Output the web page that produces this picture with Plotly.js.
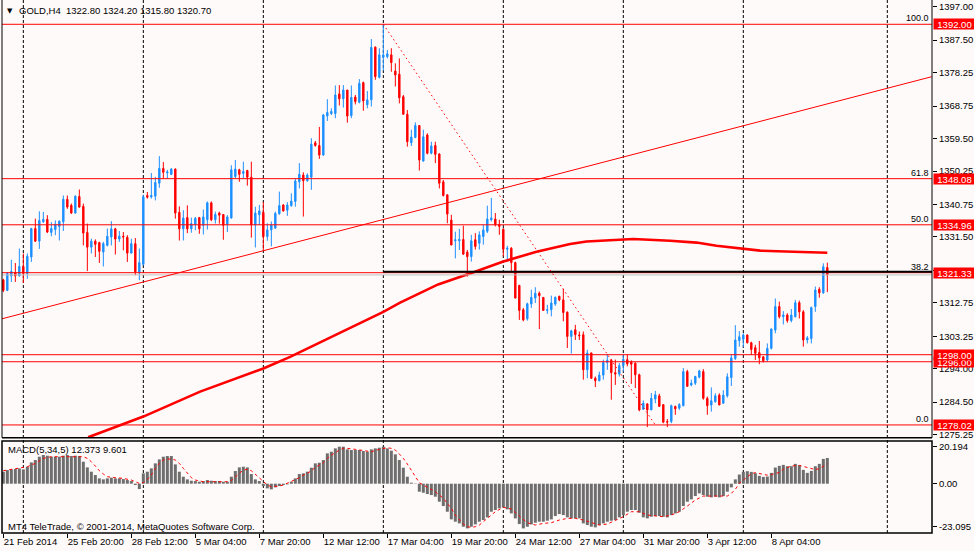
<!DOCTYPE html>
<html><head><meta charset="utf-8">
<script src="https://cdn.plot.ly/plotly-3.0.1.min.js"></script>
<style>html,body{margin:0;padding:0;background:#fffafa;}#chart{width:974px;height:551px;}</style>
</head><body><div id="chart"></div>
<script>
// ---------- data ----------
const symbolTitle = "GOLD,H4  1322.80 1324.20 1315.80 1320.70";
const macdTitle = "MACD(5,34,5) 12.373 9.601";
const copyright = "MT4 TeleTrade, \u00a9 2001-2014, MetaQuotes Software Corp.";

const opens = [1319.3,1316.3,1320.4,1321.3,1320.4,1323.1,1321.1,1325.8,1333.9,1330.3,
1335.8,1336.5,1332.8,1333.6,1334.5,1335.8,1342.2,1340.5,1338.3,1343.0,
1340.2,1332.8,1328.6,1330.3,1329.9,1327.2,1329.1,1331.5,1333.8,1330.9,
1331.7,1331.4,1326.9,1329.6,1321.3,1323.7,1343.3,1342.9,1343.1,1346.8,
1351.0,1349.7,1349.3,1350.8,1338.5,1333.8,1337.0,1333.8,1335.1,1337.0,
1334.8,1336.4,1341.2,1336.4,1338.3,1337.9,1335.1,1336.9,1348.7,1350.6,
1349.6,1350.4,1348.5,1334.9,1337.8,1338.5,1331.6,1333.5,1334.0,1338.1,
1340.6,1339.1,1340.4,1341.6,1347.2,1349.1,1347.5,1348.5,1358.3,1357.5,
1354.8,1365.9,1366.6,1366.6,1372.2,1370.8,1373.3,1366.0,1371.3,1369.8,
1375.4,1369.1,1370.5,1385.5,1376.9,1382.6,1382.8,1383.3,1378.7,1377.8,
1371.4,1366.4,1358.3,1359.8,1363.2,1353.1,1360.5,1355.3,1357.5,1355.1,
1347.2,1343.5,1336.3,1330.4,1330.4,1330.8,1327.2,1325.9,1330.7,1329.7,
1331.6,1333.1,1336.4,1336.6,1335.0,1333.7,1328.0,1328.3,1324.2,1317.7,
1310.8,1308.2,1312.4,1314.1,1315.5,1314.3,1310.6,1310.8,1312.4,1314.6,
1313.6,1310.1,1303.2,1305.1,1303.6,1303.7,1293.7,1298.5,1291.3,1290.6,
1292.2,1295.8,1296.4,1292.9,1292.5,1294.9,1296.6,1295.9,1295.6,1292.3,
1282.5,1284.0,1282.3,1285.4,1286.3,1283.8,1279.0,1279.0,1283.3,1282.8,
1283.5,1293.2,1289.4,1289.9,1291.6,1293.2,1285.6,1283.7,1284.6,1286.5,
1284.2,1286.3,1291.5,1296.9,1302.0,1302.4,1303.6,1301.4,1300.0,1298.6,
1297.4,1296.5,1299.8,1305.0,1311.7,1308.8,1309.3,1307.7,1308.8,1312.8,
1310.2,1302.2,1302.6,1311.7,1316.6,1315.6,1322.8];

const highs = [1319.6,1321.5,1325.0,1324.1,1328.2,1326.8,1326.8,1334.1,1336.7,1338.8,
1338.6,1337.7,1335.7,1336.2,1336.2,1343.3,1343.3,1341.0,1343.3,1345.0,
1341.0,1335.3,1331.0,1330.8,1330.1,1330.1,1333.9,1336.0,1334.1,1333.2,
1332.9,1332.0,1331.0,1331.2,1328.2,1343.5,1344.3,1349.7,1348.6,1354.5,
1352.8,1350.6,1351.1,1351.0,1340.2,1339.1,1340.5,1337.0,1337.2,1337.2,
1339.3,1341.6,1341.6,1338.7,1338.7,1337.9,1337.7,1351.9,1353.4,1350.9,
1352.9,1350.6,1352.9,1340.1,1340.6,1341.4,1335.4,1335.9,1338.7,1344.4,
1340.8,1341.4,1343.9,1348.2,1352.5,1349.9,1349.6,1359.6,1358.8,1362.8,
1366.5,1370.7,1368.1,1374.6,1374.7,1374.7,1373.3,1374.6,1371.9,1376.4,
1375.7,1373.0,1387.8,1385.7,1385.2,1392.0,1384.7,1385.2,1380.9,1382.3,
1371.9,1367.6,1362.0,1364.1,1363.2,1362.0,1361.0,1358.6,1358.6,1355.3,
1347.7,1343.5,1337.8,1333.0,1333.8,1334.7,1327.8,1332.1,1332.6,1333.1,
1335.0,1340.4,1342.6,1338.3,1336.4,1334.0,1329.0,1328.6,1324.5,1317.9,
1311.3,1312.8,1316.5,1317.2,1316.0,1314.4,1312.2,1314.8,1314.6,1314.8,
1316.8,1310.3,1305.1,1306.5,1304.6,1304.6,1299.4,1298.6,1291.8,1293.2,
1296.6,1298.2,1296.8,1296.6,1295.6,1298.1,1298.0,1296.4,1295.8,1292.6,
1285.0,1284.2,1287.1,1287.7,1286.9,1283.8,1279.7,1283.8,1283.5,1284.2,
1294.2,1293.7,1290.9,1292.0,1293.7,1293.9,1286.1,1288.7,1287.0,1287.0,
1287.9,1292.7,1298.1,1306.4,1304.7,1304.1,1303.8,1301.7,1300.8,1301.9,
1297.6,1301.2,1305.5,1314.0,1313.1,1310.4,1309.8,1311.0,1313.6,1313.4,
1310.7,1303.3,1311.7,1317.4,1317.2,1324.0,1324.2];

const lows = [1315.8,1316.1,1318.7,1318.7,1320.3,1318.4,1319.6,1324.4,1330.1,1328.1,
1335.5,1332.6,1331.7,1332.0,1330.5,1333.2,1339.5,1338.1,1338.1,1339.8,
1329.1,1321.8,1326.8,1325.8,1324.1,1323.1,1328.8,1329.1,1326.5,1330.1,
1327.7,1324.4,1326.8,1320.6,1319.2,1323.4,1342.4,1342.4,1341.9,1345.5,
1348.1,1348.1,1349.1,1336.7,1330.5,1330.5,1332.6,1332.7,1333.4,1332.4,
1332.2,1333.6,1336.0,1335.3,1335.3,1330.7,1332.9,1336.7,1348.2,1347.2,
1348.2,1346.1,1331.3,1328.5,1334.9,1327.8,1330.4,1328.8,1333.8,1337.8,
1338.7,1337.5,1340.1,1340.1,1345.3,1337.3,1347.2,1344.9,1357.2,1353.7,
1354.6,1364.5,1366.2,1365.3,1368.9,1368.3,1364.0,1365.3,1369.2,1369.5,
1367.4,1368.1,1368.6,1376.2,1376.6,1378.8,1382.3,1378.5,1374.3,1369.5,
1366.4,1357.2,1357.4,1359.6,1350.4,1352.9,1355.0,1355.0,1352.5,1345.3,
1343.0,1335.4,1329.2,1325.4,1327.8,1326.4,1320.2,1324.5,1327.9,1327.9,
1329.3,1332.6,1335.9,1334.5,1332.1,1326.0,1324.5,1321.4,1314.1,1307.9,
1307.5,1307.7,1311.3,1312.7,1305.3,1310.6,1309.6,1308.9,1311.9,1313.2,
1307.5,1299.9,1298.3,1302.2,1302.2,1290.9,1291.3,1291.1,1288.8,1290.4,
1290.9,1293.7,1285.2,1289.4,1291.8,1293.2,1294.7,1289.7,1288.5,1281.9,
1282.3,1277.4,1282.3,1284.2,1283.3,1278.5,1277.4,1278.5,1280.9,1282.3,
1283.3,1289.0,1289.0,1289.4,1291.3,1285.2,1280.9,1281.8,1284.4,1283.7,
1284.0,1285.8,1289.1,1296.5,1300.3,1300.1,1301.2,1297.9,1296.5,1295.3,
1295.8,1296.0,1299.5,1304.1,1308.3,1306.6,1307.1,1307.2,1308.6,1308.3,
1300.3,1301.2,1301.2,1310.2,1314.2,1315.3,1315.8];

const closes = [1316.3,1321.1,1321.7,1320.4,1323.1,1321.1,1326.0,1333.9,1330.3,1336.2,
1336.5,1332.9,1333.9,1335.1,1336.0,1342.2,1340.0,1338.3,1343.1,1340.0,
1332.6,1328.6,1330.3,1329.4,1327.4,1329.6,1331.7,1333.8,1330.9,1331.7,
1331.5,1326.9,1329.6,1321.5,1324.2,1342.9,1342.8,1343.3,1347.0,1351.0,
1349.9,1350.0,1350.8,1338.3,1333.8,1336.9,1333.8,1335.3,1336.8,1333.8,
1337.2,1341.2,1336.4,1337.9,1337.7,1334.8,1337.2,1350.6,1350.8,1349.3,
1350.1,1348.5,1334.9,1338.3,1338.9,1331.6,1333.5,1334.9,1338.2,1340.4,
1338.9,1340.6,1341.7,1347.4,1349.3,1347.5,1349.1,1357.9,1357.5,1354.8,
1366.2,1366.9,1367.2,1371.9,1370.8,1373.3,1365.9,1371.2,1370.0,1375.2,
1370.2,1370.5,1385.4,1377.1,1383.3,1383.3,1383.6,1381.1,1377.6,1371.1,
1366.4,1358.6,1359.9,1363.2,1353.4,1360.0,1355.3,1357.4,1355.0,1346.8,
1343.3,1338.0,1329.2,1330.7,1330.8,1326.6,1325.9,1330.4,1328.8,1332.1,
1333.5,1336.6,1336.9,1335.0,1334.5,1328.0,1328.3,1324.2,1314.1,1310.6,
1307.9,1312.5,1314.3,1315.5,1314.8,1310.6,1310.8,1312.7,1314.3,1313.6,
1310.0,1303.2,1304.8,1303.7,1303.4,1293.7,1298.5,1291.3,1290.6,1292.2,
1295.8,1296.4,1292.9,1292.5,1294.9,1296.7,1295.4,1295.3,1292.3,1282.3,
1284.2,1282.3,1285.6,1286.6,1283.3,1278.8,1278.8,1283.5,1282.6,1283.8,
1293.2,1289.0,1289.9,1291.8,1293.4,1285.6,1283.5,1284.9,1286.3,1283.7,
1286.5,1291.7,1297.1,1302.2,1303.1,1303.6,1301.4,1299.5,1298.4,1297.1,
1296.3,1299.8,1305.3,1311.7,1308.8,1309.3,1307.7,1309.3,1312.8,1310.2,
1302.2,1302.8,1311.4,1316.4,1315.6,1323.0,1320.7];

// MACD(5,34,5) main (histogram)
const macdMain = [5.77,6.57,6.89,7.05,7.37,6.89,8.18,10.26,11.38,12.98,
13.79,13.47,12.98,12.98,12.98,13.47,13.79,13.30,13.47,13.30,
10.58,7.85,5.77,4.17,2.56,2.08,2.56,2.89,2.56,2.56,
2.24,1.76,1.28,-0.64,-2.56,4.97,5.77,7.37,9.78,11.70,
12.98,13.30,13.30,9.30,5.77,3.37,2.08,1.44,1.28,0.96,
1.28,1.76,1.44,1.28,1.28,0.96,0.96,3.37,6.09,7.85,
8.18,7.85,4.65,2.08,1.28,-1.12,-2.24,-2.73,-1.76,-1.12,
-0.64,-0.32,0.96,2.56,4.65,4.97,5.77,7.69,9.78,10.10,
11.38,14.59,15.39,16.99,17.79,17.79,16.51,16.19,16.19,16.19,
15.71,15.39,16.51,16.99,17.31,17.79,16.99,15.87,14.11,11.38,
7.69,3.37,0.48,-0.16,-3.85,-4.33,-4.97,-5.45,-6.25,-8.66,
-10.74,-13.47,-17.15,-18.27,-19.08,-20.68,-21.48,-20.68,-19.56,-18.27,
-17.47,-16.19,-13.47,-12.66,-11.86,-11.38,-12.34,-14.27,-16.67,-19.40,
-21.48,-20.68,-19.56,-18.76,-18.27,-18.27,-17.79,-17.15,-15.55,-14.59,
-15.07,-16.19,-16.67,-16.67,-16.67,-19.08,-19.88,-20.68,-21.00,-19.88,
-19.08,-18.27,-17.79,-17.47,-16.19,-15.07,-13.47,-12.66,-12.66,-13.95,
-16.19,-16.67,-15.87,-15.55,-15.55,-15.87,-16.19,-15.07,-14.27,-13.47,
-10.74,-8.66,-7.53,-5.93,-4.65,-5.45,-6.25,-6.57,-6.25,-6.57,
-5.93,-3.85,-1.76,2.08,4.41,5.69,6.01,5.69,5.05,3.77,
3.29,3.45,5.21,7.77,8.57,9.05,8.41,8.41,9.54,8.89,
6.65,5.21,6.17,8.41,9.54,11.94,12.373];

// MACD signal line, read at these bars
const sigBars = [0,3,6,8,10,12,15,18,20,21,22,23,24,25,26,28,30,32,33,34,
35,36,37,38,39,40,41,42,43,44,45,46,47,48,49,50,53,56,57,58,
59,60,61,62,63,64,65,66,67,68,69,70,71,72,73,74,75,76,77,78,
79,80,81,82,83,84,85,86,88,90,92,94,96,97,98,99,100,101,102,103,
104,105,106,107,108,109,110,111,112,113,114,115,116,117,118,119,121,123,125,127,
129,131,133,135,137,139,141,143,145,147,149,151,153,155,157,159,161,163,165,167,
169,171,173,175,177,179,181,182,183,184,185,186,187,188,189,191,192,194,195,197,
199,200,201,203,204,205,206];
const sigVals = [6.25,7.05,8.18,9.78,12.18,12.98,12.98,13.30,12.98,12.18,10.58,8.50,6.25,4.65,3.37,2.89,2.56,1.76,0.96,0.16,
0.48,2.08,4.17,7.37,9.78,11.38,11.86,11.86,11.38,9.78,7.37,4.97,2.89,1.76,1.28,0.96,0.96,0.96,1.44,3.37,
4.97,6.57,6.89,6.25,4.49,2.56,0.96,-0.64,-1.44,-1.44,-1.12,-0.64,0.16,0.96,1.76,2.89,4.17,4.97,6.25,7.85,
8.98,10.10,12.18,13.79,14.91,16.19,16.99,16.99,16.51,15.87,15.39,16.51,17.31,16.99,16.19,14.27,12.18,9.46,6.25,3.37,
0.48,-0.64,-1.76,-2.73,-3.85,-5.45,-7.05,-9.46,-11.86,-15.07,-17.47,-19.40,-20.68,-21.00,-20.68,-19.88,-16.67,-13.47,-11.38,-12.18,
-15.55,-18.76,-19.88,-19.08,-18.76,-17.47,-16.67,-16.67,-17.47,-18.76,-19.88,-19.40,-17.79,-15.87,-13.47,-13.47,-15.07,-15.55,-15.87,-15.07,
-13.47,-10.74,-7.85,-5.93,-5.93,-6.25,-5.93,-4.65,-2.73,0.2,1.6,3.2,4.8,5.3,5.0,4.1,4.4,5.4,7.0,8.5,
8.8,8.3,7.6,6.8,7.2,8.2,9.601];

// moving average (thick red), read at these bars
const maBars = [21.2,35,49.2,65,71.7,95,99.2,108.7,117.9,125,133.3,141.7,145.8,151.7,157.5,166.7,173.3,178.3,184.2,189.2,197.5,203.3,206];
const maVals = [1274.5,1280.4,1287.5,1294.1,1297.4,1310.2,1312.8,1318.0,1321.6,1324.5,1327.3,1329.5,1330.2,1330.6,1330.9,1330.4,1329.9,1329.0,1328.2,1327.6,1327.3,1327.0,1327.0];

// drawn objects
const levelPrices = [1392.00, 1348.08, 1334.96, 1321.33, 1298.00, 1296.00, 1278.02];
const fibPrices = [1392.00, 1348.08, 1334.96, 1321.33, 1278.02];
const fibLabels = ["100.0", "61.8", "50.0", "38.2", "0.0"];
const fibDiagBars = [95, 163];
const fibDiagPrices = [1392.00, 1278.02];
const trendBars = [-0.83, 232.1];
const trendPrices = [1308.07, 1377.09];
const blackLineBars = [95, 240];
const blackLinePrice = 1321.6;
const bidPrice = 1320.70;
const gridBars = [5, 35, 65, 95, 125, 155, 185, 221];

// axes
const timeBars = [0,16,32,48,64,80,96,112,128,144,160,176,192];
const timeLabels = ["21 Feb 2014","25 Feb 20:00","28 Feb 12:00","5 Mar 04:00","7 Mar 20:00","12 Mar 12:00","17 Mar 04:00","19 Mar 20:00","24 Mar 12:00","27 Mar 04:00","31 Mar 20:00","3 Apr 12:00","8 Apr 04:00"];
const priceTicks = [1397.00,1387.50,1378.25,1368.75,1359.50,1350.25,1340.75,1331.50,1322.00,1312.75,1303.25,1294.00,1284.50,1275.25];
const macdTickPos = [17.79, 0, -20.67];
const macdTickText = ["20.194", "0.00", "-23.095"];

// ---------- chart ----------
const bars = opens.map((_, i) => i);
const FONT = 'Liberation Sans, Arial, sans-serif';
const RED = '#ff0000', BLUE = '#1e90ff';

const traces = [
  { type: 'candlestick', x: bars, open: opens, high: highs, low: lows, close: closes,
    xaxis: 'x', yaxis: 'y', whiskerwidth: 0, hoverinfo: 'skip',
    increasing: { line: { color: BLUE, width: 1 }, fillcolor: BLUE },
    decreasing: { line: { color: RED, width: 1 }, fillcolor: RED } },
  { type: 'scatter', mode: 'lines', x: maBars, y: maVals, xaxis: 'x', yaxis: 'y',
    line: { color: RED, width: 2.6 }, hoverinfo: 'skip' },
  { type: 'bar', x: bars, y: macdMain, xaxis: 'x', yaxis: 'y2',
    marker: { color: '#6e6e6e', line: { width: 0 } }, hoverinfo: 'skip' },
  { type: 'scatter', mode: 'lines', x: sigBars, y: sigVals, xaxis: 'x', yaxis: 'y2',
    line: { color: RED, width: 1, dash: '3px,3px' }, hoverinfo: 'skip' }
];

const MAIN_BOTTOM = 0.1788, MACD_TOP = 0.1726;
const shapes = [];
gridBars.forEach(b => shapes.push({ type: 'line', xref: 'x', yref: 'paper', x0: b, x1: b, y0: 0, y1: 1,
  layer: 'below', line: { color: '#000', width: 1, dash: '3px,2px' } }));
shapes.push({ type: 'line', xref: 'paper', yref: 'y', x0: 0, x1: 1, y0: bidPrice, y1: bidPrice,
  line: { color: '#c0c0c0', width: 1 } });
levelPrices.forEach(p => shapes.push({ type: 'line', xref: 'paper', yref: 'y', x0: 0, x1: 1, y0: p, y1: p,
  line: { color: RED, width: 1 } }));
shapes.push({ type: 'line', xref: 'x', yref: 'y', x0: blackLineBars[0], x1: blackLineBars[1],
  y0: blackLinePrice, y1: blackLinePrice, line: { color: '#000', width: 2 } });
shapes.push({ type: 'line', xref: 'x', yref: 'y', x0: trendBars[0], x1: trendBars[1],
  y0: trendPrices[0], y1: trendPrices[1], line: { color: RED, width: 1 } });
shapes.push({ type: 'line', xref: 'x', yref: 'y', x0: fibDiagBars[0], x1: fibDiagBars[1],
  y0: fibDiagPrices[0], y1: fibDiagPrices[1], line: { color: RED, width: 1, dash: '1.5px,3px' } });
// pane frames
shapes.push({ type: 'line', xref: 'paper', yref: 'paper', x0: 0, x1: 0, y0: MAIN_BOTTOM, y1: 1, line: { color: '#000', width: 1 } });
shapes.push({ type: 'line', xref: 'paper', yref: 'paper', x0: 1, x1: 1, y0: MAIN_BOTTOM, y1: 1, line: { color: '#000', width: 1 } });
shapes.push({ type: 'line', xref: 'paper', yref: 'paper', x0: 0, x1: 1, y0: MAIN_BOTTOM, y1: MAIN_BOTTOM, line: { color: '#000', width: 1.5 } });
shapes.push({ type: 'rect', xref: 'paper', yref: 'paper', x0: 0, x1: 1, y0: 0, y1: MACD_TOP, line: { color: '#000', width: 1.5 } });

const annotations = [];
fibPrices.forEach((p, k) => annotations.push({ xref: 'paper', yref: 'y', x: 1, y: p, xanchor: 'right', yanchor: 'bottom',
  xshift: -1, yshift: -1, text: fibLabels[k], showarrow: false, font: { family: FONT, size: 9, color: '#000' } }));
levelPrices.slice().reverse().forEach(p => annotations.push({ xref: 'paper', yref: 'y', x: 1, y: p, xanchor: 'left', yanchor: 'middle',
  xshift: 1, text: p.toFixed(2), showarrow: false, bgcolor: RED, width: 41, height: 10, borderpad: 0, align: 'center',
  font: { family: FONT, size: 9.5, color: '#fff' } }));
annotations.push({ xref: 'paper', yref: 'paper', x: 0, y: 1, xanchor: 'left', yanchor: 'middle', xshift: 3, yshift: -10.5,
  text: '\u25BC', showarrow: false, font: { family: 'DejaVu Sans', size: 7, color: '#000' } });
annotations.push({ xref: 'paper', yref: 'paper', x: 0, y: 1, xanchor: 'left', yanchor: 'middle', xshift: 15, yshift: -10.7,
  text: symbolTitle.replace('  ', '&nbsp;&nbsp;'), showarrow: false, font: { family: FONT, size: 9.5, color: '#000' } });
annotations.push({ xref: 'paper', yref: 'paper', x: 0, y: MACD_TOP, xanchor: 'left', yanchor: 'middle', xshift: 4, yshift: -8.3,
  text: macdTitle, showarrow: false, font: { family: FONT, size: 9.5, color: '#000' } });
annotations.push({ xref: 'paper', yref: 'paper', x: 0, y: 0, xanchor: 'left', yanchor: 'middle', xshift: 4, yshift: 7,
  text: copyright, showarrow: false, font: { family: FONT, size: 9.5, color: '#000' } });

const layout = {
  width: 974, height: 551,
  margin: { l: 2, r: 42, t: 0, b: 18 },
  paper_bgcolor: '#fffafa', plot_bgcolor: 'rgba(0,0,0,0)',
  showlegend: false, hovermode: false,
  font: { family: FONT, size: 9, color: '#000' },
  boxgap: 0.5, bargap: 0.25,
  xaxis: { range: [-0.3325, 232.17], anchor: 'y2', tickmode: 'array', tickvals: timeBars, ticktext: timeLabels,
    ticks: 'outside', ticklen: 4, tickcolor: '#000', ticklabelposition: 'outside right', tickangle: 0,
    showgrid: false, zeroline: false, showline: false, rangeslider: { visible: false }, fixedrange: true,
    tickfont: { family: FONT, size: 9.5, color: '#000' } },
  yaxis: { domain: [MAIN_BOTTOM, 1], range: [1274.39, 1398.91], side: 'right', anchor: 'x',
    tickmode: 'array', tickvals: priceTicks, ticktext: priceTicks.map(v => v.toFixed(2)),
    ticks: 'outside', ticklen: 4, tickcolor: '#000', showgrid: false, zeroline: false, showline: false,
    tickfont: { family: FONT, size: 9.5, color: '#000' }, fixedrange: true },
  yaxis2: { domain: [0, MACD_TOP], range: [-23.70, 20.53], side: 'right', anchor: 'x',
    tickmode: 'array', tickvals: macdTickPos, ticktext: macdTickText,
    ticks: 'outside', ticklen: 4, tickcolor: '#000', showgrid: false, zeroline: false, showline: false,
    tickfont: { family: FONT, size: 9.5, color: '#000' }, fixedrange: true },
  shapes: shapes,
  annotations: annotations
};

Plotly.newPlot('chart', traces, layout, { staticPlot: true, displayModeBar: false });
</script>
</body></html>
